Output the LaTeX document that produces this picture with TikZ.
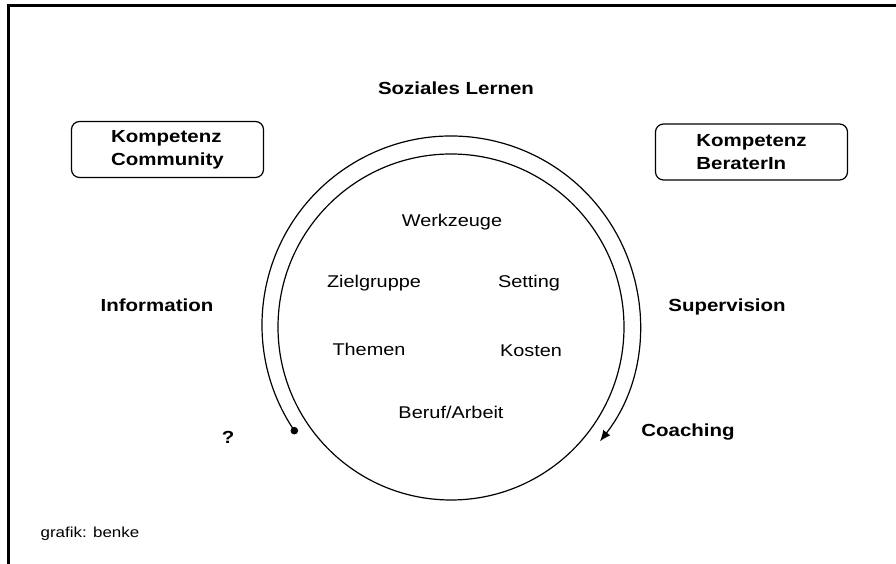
\documentclass[tikz,border=0pt]{standalone}
\usepackage{fontspec}
\setmainfont[FakeStretch=1.17]{Liberation Sans}
\usetikzlibrary{arrows.meta}
\begin{document}
\begin{tikzpicture}[x=1pt,y=1pt,
	lbl/.style={font=\fontsize{17.5}{23}\selectfont\bfseries},
	itm/.style={font=\fontsize{17}{21}\selectfont},
	kbox/.style={lbl,draw,line width=1.2,rounded corners=8,minimum width=192,minimum height=56,align=left}]
	\useasboundingbox (0,0) rectangle (896,564);
	\draw[line width=3] (8,0)--(8,558)--(896,558);
	\node[lbl] (sozial) at (456,476) {Soziales Lernen};
	\node[kbox] (kcom) at (167.5,414.5) {Kompetenz\\Community};
	\node[kbox] (kber) at (751.5,412) {Kompetenz\\BeraterIn};
	\node[lbl] (info) at (157,259) {Information};
	\node[lbl] (superv) at (727,257) {Supervision};
	\node[lbl] (coach) at (688,132) {Coaching};
	\node[lbl] (frage) at (228,127) {?};
	\coordinate (ctr) at (451,237);
	\coordinate (octr) at (451,239);
	\draw[line width=1.2] (ctr) circle (173);
	\coordinate (start) at ([shift={(octr)}]214:189);
	\draw[line width=1.2,-{Latex[length=11,width=9]}] (start) arc[start angle=214,end angle=-38,radius=189];
	\fill (start) circle (3.8);
	\node[itm] (werk) at (452,342) {Werkzeuge};
	\node[itm] (ziel) at (374,281) {Zielgruppe};
	\node[itm] (sett) at (529,281) {Setting};
	\node[itm] (them) at (369,215) {Themen};
	\node[itm] (kost) at (531,213) {Kosten};
	\node[itm] (beruf) at (451,152) {Beruf/Arbeit};
	\node[font=\fontsize{14.5}{17}\selectfont] (grafik) at (90,30) {grafik: benke};
\end{tikzpicture}
\end{document}
